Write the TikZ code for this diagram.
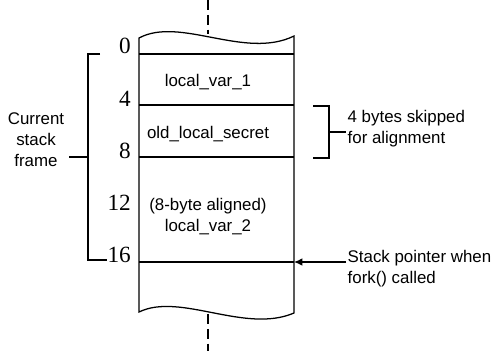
\documentclass[tikz,border=0pt]{standalone}
\usepackage{fontspec}
\setmainfont{Liberation Sans}
\newfontfamily\numfont{Liberation Serif}
\usetikzlibrary{arrows.meta}
\begin{document}
\begin{tikzpicture}[x=0.025cm,y=-0.025cm]
    \tikzstyle{byteoff}=[anchor=base east,inner sep=0pt,font=\numfont\fontsize{16.5}{18}\selectfont]
    \tikzstyle{cell}=[align=center,font=\fontsize{12}{15}\selectfont]
    \tikzstyle{note}=[align=left,anchor=west,inner sep=1pt,font=\fontsize{12}{15}\selectfont]
    \tikzstyle{slot}=[line width=0.9pt]
    \useasboundingbox (0,0) rectangle (492,351);

    % stack memory with torn ends
    \coordinate (top_left) at (139,38);
    \coordinate (top_right) at (294,36);
    \coordinate (bot_left) at (139,312);
    \coordinate (bot_right) at (294,313);
    \draw[slot] (top_left) .. controls (180,16) and (245,60) .. (top_right) -- (bot_right)
        .. controls (245,334) and (180,292) .. (bot_left) -- cycle;
    \foreach \y in {54,105,157}
        \draw[slot] (139,\y) -- (294,\y);
    \draw[line width=2pt] (139,262) -- (294,262);
    \draw[line width=1pt,dash pattern=on 7pt off 3.5pt] (208,0) -- (208,34);
    \draw[line width=1pt,dash pattern=on 7pt off 3.5pt] (208,314) -- (208,351);

    \node[cell] (var1) at (208,82) {local\_var\_1};
    \node[cell] (secret) at (208,134) {old\_local\_secret};
    \node[cell] (var2) at (208,217) {(8-byte aligned)\\local\_var\_2};

    % byte offsets
    \node[byteoff] (off0) at (131,53) {0};
    \node[byteoff] (off4) at (131,106) {4};
    \node[byteoff] (off8) at (131,158) {8};
    \node[byteoff] (off12) at (131,210) {12};
    \node[byteoff] (off16) at (131,262) {16};

    % current frame bracket
    \node[cell] (frame) at (36,140) {Current\\stack\\frame};
    \coordinate (frame_top) at (100,54);
    \coordinate (frame_bot) at (107,260);
    \coordinate (frame_mid) at (88,157);
    \draw[slot] (frame_top) -- (frame_mid |- frame_top) -- (frame_mid |- frame_bot) -- (frame_bot);
    \draw[slot] (frame.east |- frame_mid) -- (frame_mid);

    % skipped bytes bracket
    \coordinate (skip_top) at (313,106);
    \coordinate (skip_bot) at (313,158);
    \coordinate (skip_mid) at (329,132);
    \node[note] (skip) at (346,128.5) {4 bytes skipped\\for alignment};
    \draw[slot] (skip_top) -- (skip_mid |- skip_top) -- (skip_mid |- skip_bot) -- (skip_bot);
    \draw[slot] (skip_mid) -- (skip.west |- skip_mid);

    % stack pointer
    \node[note] (sp) at (346,269) {Stack pointer when\\fork() called};
    \coordinate (sp_tip) at (294,262);
    \draw[slot,-{Latex[length=6pt,width=5.5pt]}] (sp.west |- sp_tip) -- (sp_tip);
\end{tikzpicture}
\end{document}
